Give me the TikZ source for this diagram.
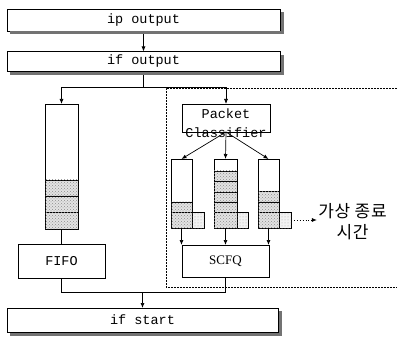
\documentclass[tikz,border=0pt]{standalone}
\usepackage{fontspec}
\setmonofont{Liberation Mono}
\newfontfamily\krfont{Noto Sans CJK KR}
\newfontfamily\serifb{Liberation Serif}
\usetikzlibrary{arrows.meta,patterns}
\begin{document}
\begin{tikzpicture}[x=1pt,y=-1pt,line width=0.7pt,
  box/.style={draw,fill=white,inner sep=0pt,outer sep=0pt},
  mono/.style={font=\ttfamily\fontsize{13.5}{15}\selectfont},
  bar/.style={box,mono},
  cell/.style={draw,fill=gray!22,postaction={pattern=crosshatch dots,pattern color=gray!90}},
  tagcell/.style={box,fill=gray!10,postaction={pattern=dots,pattern color=gray!70}},
  arr/.style={-{Latex[length=5pt,width=4pt]}},
  dotarr/.style={dotted,line width=0.9pt,-{Latex[length=5pt,width=4pt]}},
  region/.style={dash pattern=on 1.6pt off 1.4pt,line width=0.6pt}
]
\useasboundingbox (0,0) rectangle (397,337);

% dotted region
\draw[region] (400,88) -- (166,88) -- (166,287) -- (400,287);

% bars
\node[bar,minimum width=273pt,minimum height=22pt] (ip) at (143.5,20) {ip output};
\node[bar,minimum width=273pt,minimum height=20pt] (ifo) at (143.5,61.5) {if output};
\node[bar,minimum width=271pt,minimum height=24pt] (ifs) at (142.5,320) {if start};

\draw[arr] (ip.south) -- (ifo.north);

% FIFO side
\node[box,minimum width=33pt,minimum height=125pt] (fq) at (61.5,166.5) {};
\draw[cell] (45,180) rectangle (78,196);
\draw[cell] (45,196) rectangle (78,212);
\draw[cell] (45,212) rectangle (78,229);
\node[box,mono,minimum width=87pt,minimum height=34pt] (fifo) at (61.5,261) {FIFO};
\draw (fq.south) -- (fifo.north);

% classifier side
\node[box,minimum width=88pt,minimum height=28pt] (pc) at (226,118) {};
\node[mono,align=center,inner sep=0pt,font=\ttfamily\fontsize{13.5}{19.5}\selectfont] (pctext) at (226,123) {Packet\\Classifier};

\coordinate (j1) at (143.5,87);
\draw (ifo.south) -- (j1);
\draw[arr] (j1) -| (fq.north);
\draw[arr] (j1) -| (pc.north);

% small queues
\node[box,minimum width=21pt,minimum height=69pt] (q1) at (181.5,193.5) {};
\node[box,minimum width=23pt,minimum height=69pt] (q2) at (225.5,193.5) {};
\node[box,minimum width=21pt,minimum height=69pt] (q3) at (268.5,193.5) {};
\draw[cell] (171,202) rectangle (192,212);
\draw[cell] (171,212) rectangle (192,228);
\draw[cell] (214,171) rectangle (237,181.5);
\draw[cell] (214,181.5) rectangle (237,192);
\draw[cell] (214,192) rectangle (237,202);
\draw[cell] (214,202) rectangle (237,212);
\draw[cell] (214,212) rectangle (237,228);
\draw[cell] (258,191) rectangle (279,202);
\draw[cell] (258,202) rectangle (279,212);
\draw[cell] (258,212) rectangle (279,228);
\node[tagcell,minimum width=12pt,minimum height=16pt] (t1) at (198,220) {};
\node[tagcell,minimum width=11pt,minimum height=16pt] (t2) at (242.5,220) {};
\node[tagcell,minimum width=12pt,minimum height=16pt] (t3) at (285,220) {};

\draw[arr] (pc.south) -- (q1.north);
\draw[arr] (pc.south) -- (q2.north);
\draw[arr] (pc.south) -- (q3.north);

\node[box,font=\serifb\fontsize{13}{15}\selectfont,minimum width=87pt,minimum height=32pt] (scfq) at (225.5,261) {SCFQ};
\draw[arr] (q1.south) -- (q1.south |- scfq.north);
\draw[arr] (q2.south) -- (q2.south |- scfq.north);
\draw[arr] (q3.south) -- (q3.south |- scfq.north);

% virtual finish time
\node[font=\krfont\fontsize{17}{21}\selectfont\addfontfeature{LetterSpace=4},align=center,inner sep=1pt] (vt) at (352.5,222) {가상 종료\\시간};
\draw[dotarr] (t3.east) -- (t3.east -| vt.west);

% merge to if start
\coordinate (j2) at (142.5,292);
\draw (fifo.south) |- (scfq.south |- j2) -- (scfq.south);
\draw[arr] (j2) -- (ifs.north);

% bar shadows (right and bottom)
\fill[black!55] (280.5,12) rectangle (284,34.5);
\fill[black!55] (10,31.5) rectangle (284,34.5);
\fill[black!55] (280.5,55) rectangle (284,75);
\fill[black!55] (10,72) rectangle (284,75);
\fill[black!55] (278.5,311) rectangle (282,335.5);
\fill[black!55] (10,332.5) rectangle (282,335.5);
\end{tikzpicture}
\end{document}
